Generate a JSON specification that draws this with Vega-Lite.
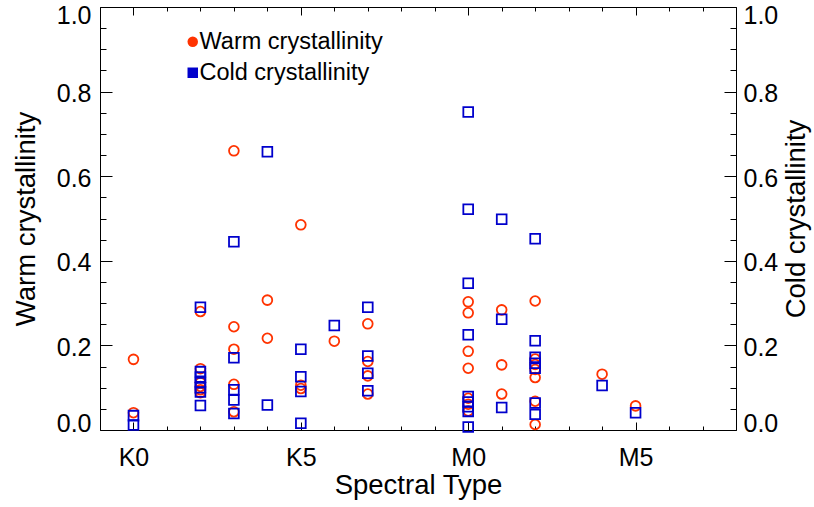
{
  "$schema": "https://vega.github.io/schema/vega-lite/v6.json",
  "width": 636,
  "height": 423,
  "autosize": {"type": "none"},
  "padding": {"left": 100, "top": 7, "right": 78, "bottom": 77},
  "background": "white",
  "config": {
    "view": {"stroke": null},
    "font": "Liberation Sans",
    "axis": {
      "grid": false,
      "domainColor": "#000",
      "domainWidth": 1,
      "tickColor": "#000",
      "tickWidth": 1,
      "labelColor": "#000",
      "titleColor": "#000",
      "labelFont": "Liberation Sans",
      "titleFont": "Liberation Sans",
      "labelFontSize": 25,
      "titleFontSize": 27.5,
      "titleFontWeight": "normal",
      "labelOverlap": false,
      "labelFlush": false
    }
  },
  "data": {
    "values": [
      {"t": 0, "v": 0.167, "s": "Warm crystallinity"},
      {"t": 0, "v": 0.041, "s": "Warm crystallinity"},
      {"t": 2, "v": 0.280, "s": "Warm crystallinity"},
      {"t": 2, "v": 0.145, "s": "Warm crystallinity"},
      {"t": 2, "v": 0.112, "s": "Warm crystallinity"},
      {"t": 2, "v": 0.103, "s": "Warm crystallinity"},
      {"t": 2, "v": 0.095, "s": "Warm crystallinity"},
      {"t": 2, "v": 0.088, "s": "Warm crystallinity"},
      {"t": 3, "v": 0.660, "s": "Warm crystallinity"},
      {"t": 3, "v": 0.244, "s": "Warm crystallinity"},
      {"t": 3, "v": 0.191, "s": "Warm crystallinity"},
      {"t": 3, "v": 0.108, "s": "Warm crystallinity"},
      {"t": 3, "v": 0.043, "s": "Warm crystallinity"},
      {"t": 4, "v": 0.307, "s": "Warm crystallinity"},
      {"t": 4, "v": 0.217, "s": "Warm crystallinity"},
      {"t": 5, "v": 0.485, "s": "Warm crystallinity"},
      {"t": 5, "v": 0.106, "s": "Warm crystallinity"},
      {"t": 5, "v": 0.098, "s": "Warm crystallinity"},
      {"t": 6, "v": 0.210, "s": "Warm crystallinity"},
      {"t": 7, "v": 0.251, "s": "Warm crystallinity"},
      {"t": 7, "v": 0.162, "s": "Warm crystallinity"},
      {"t": 7, "v": 0.128, "s": "Warm crystallinity"},
      {"t": 7, "v": 0.085, "s": "Warm crystallinity"},
      {"t": 10, "v": 0.303, "s": "Warm crystallinity"},
      {"t": 10, "v": 0.277, "s": "Warm crystallinity"},
      {"t": 10, "v": 0.186, "s": "Warm crystallinity"},
      {"t": 10, "v": 0.146, "s": "Warm crystallinity"},
      {"t": 10, "v": 0.075, "s": "Warm crystallinity"},
      {"t": 10, "v": 0.061, "s": "Warm crystallinity"},
      {"t": 10, "v": 0.045, "s": "Warm crystallinity"},
      {"t": 11, "v": 0.284, "s": "Warm crystallinity"},
      {"t": 11, "v": 0.154, "s": "Warm crystallinity"},
      {"t": 11, "v": 0.085, "s": "Warm crystallinity"},
      {"t": 12, "v": 0.305, "s": "Warm crystallinity"},
      {"t": 12, "v": 0.168, "s": "Warm crystallinity"},
      {"t": 12, "v": 0.155, "s": "Warm crystallinity"},
      {"t": 12, "v": 0.143, "s": "Warm crystallinity"},
      {"t": 12, "v": 0.124, "s": "Warm crystallinity"},
      {"t": 12, "v": 0.068, "s": "Warm crystallinity"},
      {"t": 12, "v": 0.013, "s": "Warm crystallinity"},
      {"t": 14, "v": 0.132, "s": "Warm crystallinity"},
      {"t": 15, "v": 0.057, "s": "Warm crystallinity"},
      {"t": 0, "v": 0.034, "s": "Cold crystallinity"},
      {"t": 0, "v": 0.012, "s": "Cold crystallinity"},
      {"t": 2, "v": 0.290, "s": "Cold crystallinity"},
      {"t": 2, "v": 0.138, "s": "Cold crystallinity"},
      {"t": 2, "v": 0.125, "s": "Cold crystallinity"},
      {"t": 2, "v": 0.112, "s": "Cold crystallinity"},
      {"t": 2, "v": 0.100, "s": "Cold crystallinity"},
      {"t": 2, "v": 0.090, "s": "Cold crystallinity"},
      {"t": 2, "v": 0.058, "s": "Cold crystallinity"},
      {"t": 3, "v": 0.445, "s": "Cold crystallinity"},
      {"t": 3, "v": 0.171, "s": "Cold crystallinity"},
      {"t": 3, "v": 0.095, "s": "Cold crystallinity"},
      {"t": 3, "v": 0.071, "s": "Cold crystallinity"},
      {"t": 3, "v": 0.039, "s": "Cold crystallinity"},
      {"t": 4, "v": 0.658, "s": "Cold crystallinity"},
      {"t": 4, "v": 0.059, "s": "Cold crystallinity"},
      {"t": 5, "v": 0.191, "s": "Cold crystallinity"},
      {"t": 5, "v": 0.126, "s": "Cold crystallinity"},
      {"t": 5, "v": 0.091, "s": "Cold crystallinity"},
      {"t": 5, "v": 0.016, "s": "Cold crystallinity"},
      {"t": 6, "v": 0.247, "s": "Cold crystallinity"},
      {"t": 7, "v": 0.290, "s": "Cold crystallinity"},
      {"t": 7, "v": 0.175, "s": "Cold crystallinity"},
      {"t": 7, "v": 0.134, "s": "Cold crystallinity"},
      {"t": 7, "v": 0.093, "s": "Cold crystallinity"},
      {"t": 10, "v": 0.752, "s": "Cold crystallinity"},
      {"t": 10, "v": 0.522, "s": "Cold crystallinity"},
      {"t": 10, "v": 0.347, "s": "Cold crystallinity"},
      {"t": 10, "v": 0.225, "s": "Cold crystallinity"},
      {"t": 10, "v": 0.079, "s": "Cold crystallinity"},
      {"t": 10, "v": 0.066, "s": "Cold crystallinity"},
      {"t": 10, "v": 0.055, "s": "Cold crystallinity"},
      {"t": 10, "v": 0.044, "s": "Cold crystallinity"},
      {"t": 10, "v": 0.007, "s": "Cold crystallinity"},
      {"t": 11, "v": 0.498, "s": "Cold crystallinity"},
      {"t": 11, "v": 0.262, "s": "Cold crystallinity"},
      {"t": 11, "v": 0.053, "s": "Cold crystallinity"},
      {"t": 12, "v": 0.452, "s": "Cold crystallinity"},
      {"t": 12, "v": 0.211, "s": "Cold crystallinity"},
      {"t": 12, "v": 0.172, "s": "Cold crystallinity"},
      {"t": 12, "v": 0.158, "s": "Cold crystallinity"},
      {"t": 12, "v": 0.146, "s": "Cold crystallinity"},
      {"t": 12, "v": 0.064, "s": "Cold crystallinity"},
      {"t": 12, "v": 0.037, "s": "Cold crystallinity"},
      {"t": 14, "v": 0.105, "s": "Cold crystallinity"},
      {"t": 15, "v": 0.041, "s": "Cold crystallinity"}
    ]
  },
  "layer": [
    {
      "transform": [{"filter": "datum.s === 'Warm crystallinity'"}],
      "mark": {"type": "point", "filled": false, "strokeWidth": 1.8, "size": 95, "opacity": 1},
      "encoding": {
        "x": {
          "field": "t", "type": "quantitative",
          "scale": {"domain": [-1, 18], "nice": false, "zero": false},
          "axis": {
            "orient": "bottom",
            "values": [-1, 0, 1, 2, 3, 4, 5, 6, 7, 8, 9, 10, 11, 12, 13, 14, 15, 16, 17, 18],
            "labelExpr": "datum.value === 0 ? 'K0' : datum.value === 5 ? 'K5' : datum.value === 10 ? 'M0' : datum.value === 15 ? 'M5' : ''",
            "tickSize": {"condition": {"test": "datum.value % 5 === 0", "value": -8}, "value": -4},
            "labelPadding": 23,
            "title": "Spectral Type",
            "titlePadding": -3
          }
        },
        "y": {
          "field": "v", "type": "quantitative",
          "scale": {"domain": [0, 1], "nice": false, "zero": false},
          "axis": {
            "orient": "left",
            "values": [0, 0.05, 0.1, 0.15, 0.2, 0.25, 0.3, 0.35, 0.4, 0.45, 0.5, 0.55, 0.6, 0.65, 0.7, 0.75, 0.8, 0.85, 0.9, 0.95, 1],
            "labelExpr": "abs(datum.value * 5 - round(datum.value * 5)) < 0.001 ? format(datum.value, '.1f') : ''",
            "tickSize": {"condition": {"test": "abs(datum.value * 5 - round(datum.value * 5)) < 0.001", "value": -12}, "value": -6},
            "labelPadding": 21,
            "labelOffset": {"condition": [{"test": "datum.value === 0", "value": -7}, {"test": "datum.value === 1", "value": 8}], "value": 2},
            "title": "Warm crystallinity",
            "titlePadding": 16
          }
        },
        "color": {
          "field": "s", "type": "nominal",
          "scale": {"domain": ["Warm crystallinity", "Cold crystallinity"], "range": ["#ff3300", "#0000cc"]},
          "legend": {
            "orient": "none", "legendX": 81, "legendY": 23, "title": null,
            "labelFontSize": 23.5, "labelFont": "Liberation Sans", "labelColor": "#000", "labelLimit": 0,
            "symbolSize": 110, "symbolStrokeWidth": 0, "labelOffset": -5, "rowPadding": 6, "padding": 0,
            "encoding": {"symbols": {"fill": {"condition": {"test": "datum.value === 'Warm crystallinity'", "value": "#ff3300"}, "value": "#0000cc"}}}
          }
        },
        "shape": {
          "field": "s", "type": "nominal",
          "scale": {"domain": ["Warm crystallinity", "Cold crystallinity"], "range": ["circle", "square"]},
          "legend": {
            "orient": "none", "legendX": 81, "legendY": 23, "title": null,
            "labelFontSize": 23.5, "labelFont": "Liberation Sans", "labelColor": "#000", "labelLimit": 0,
            "symbolSize": 110, "symbolStrokeWidth": 0, "labelOffset": -5, "rowPadding": 6, "padding": 0,
            "encoding": {"symbols": {"fill": {"condition": {"test": "datum.value === 'Warm crystallinity'", "value": "#ff3300"}, "value": "#0000cc"}}}
          }
        }
      }
    },
    {
      "transform": [{"filter": "datum.s === 'Cold crystallinity'"}],
      "mark": {"type": "point", "filled": false, "strokeWidth": 1.8, "size": 95, "opacity": 1},
      "encoding": {
        "x": {
          "field": "t", "type": "quantitative",
          "scale": {"domain": [-1, 18], "nice": false, "zero": false},
          "axis": {
            "orient": "top",
            "values": [-1, 0, 1, 2, 3, 4, 5, 6, 7, 8, 9, 10, 11, 12, 13, 14, 15, 16, 17, 18],
            "labels": false,
            "tickSize": {"condition": {"test": "datum.value % 5 === 0", "value": -8}, "value": -4},
            "title": null
          }
        },
        "y": {
          "field": "v", "type": "quantitative",
          "scale": {"domain": [0, 1], "nice": false, "zero": false},
          "axis": {
            "orient": "right",
            "values": [0, 0.05, 0.1, 0.15, 0.2, 0.25, 0.3, 0.35, 0.4, 0.45, 0.5, 0.55, 0.6, 0.65, 0.7, 0.75, 0.8, 0.85, 0.9, 0.95, 1],
            "labelExpr": "abs(datum.value * 5 - round(datum.value * 5)) < 0.001 ? format(datum.value, '.1f') : ''",
            "tickSize": {"condition": {"test": "abs(datum.value * 5 - round(datum.value * 5)) < 0.001", "value": -12}, "value": -6},
            "labelPadding": 19,
            "labelOffset": {"condition": [{"test": "datum.value === 0", "value": -7}, {"test": "datum.value === 1", "value": 8}], "value": 2},
            "title": "Cold crystallinity",
            "titleAngle": 270,
            "titlePadding": 33
          }
        },
        "color": {"field": "s", "type": "nominal", "scale": {"domain": ["Warm crystallinity", "Cold crystallinity"], "range": ["#ff3300", "#0000cc"]}, "legend": null},
        "shape": {"field": "s", "type": "nominal", "scale": {"domain": ["Warm crystallinity", "Cold crystallinity"], "range": ["circle", "square"]}, "legend": null}
      }
    }
  ],
  "resolve": {"axis": {"x": "independent", "y": "independent"}}
}
